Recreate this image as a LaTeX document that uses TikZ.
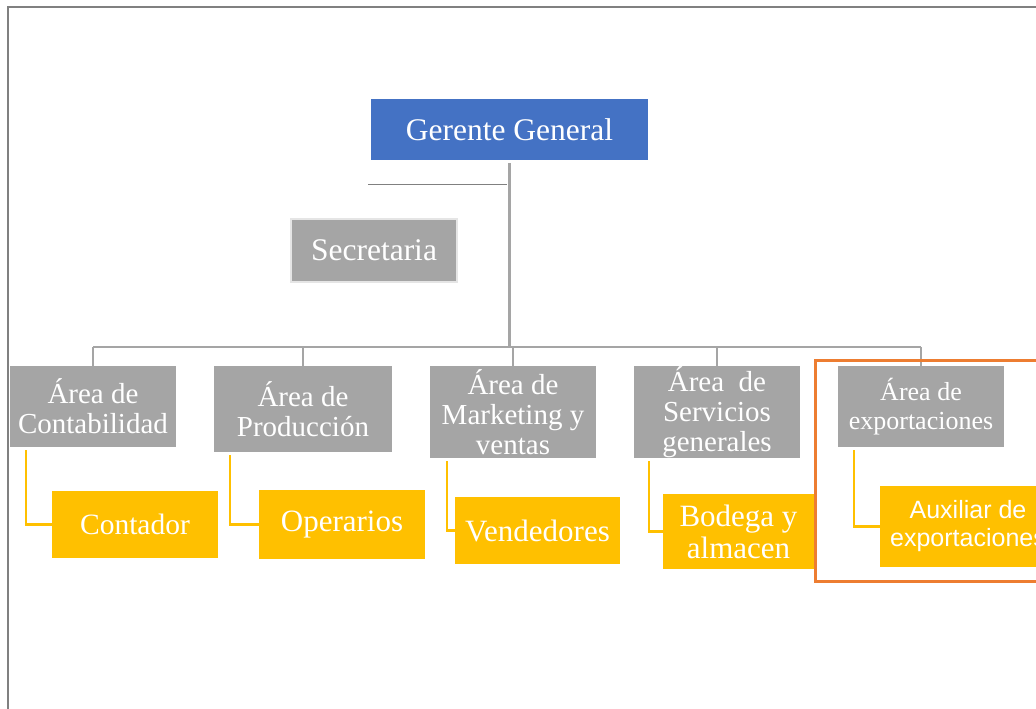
\documentclass[tikz,border=0pt]{standalone}
\usepackage{fontspec}
\setmainfont{Liberation Serif}
\newfontfamily\auxfont{Liberation Sans}
\definecolor{jefeazul}{HTML}{4472C4}
\definecolor{areagris}{HTML}{A5A5A5}
\definecolor{cargoamarillo}{HTML}{FFC000}
\definecolor{marconaranja}{HTML}{ED7D31}
\definecolor{marcogris}{HTML}{808080}

\begin{document}
\begin{tikzpicture}[x=1pt,y=-1pt,
		caja/.style={inner sep=0pt,text=white,align=center,font=\fontsize{29}{30}\selectfont},
		area/.style={caja,fill=areagris,minimum width=166pt,minimum height=81pt},
		cargo/.style={caja,fill=cargoamarillo,minimum width=166pt,minimum height=67pt,font=\fontsize{31}{32}\selectfont},
		rama/.style={areagris,line width=2.5pt},
		enlace/.style={cargoamarillo,line width=2.5pt}]
	\useasboundingbox (0,0) rectangle (1036,709);

	\draw[marcogris,line width=1.5pt] (8,709)--(8,7)--(1036,7); % page frame

	% top
	\node (gg) at (509.5,129.5) [caja,fill=jefeazul,minimum width=277pt,minimum height=61pt,font=\fontsize{31.5}{33}\selectfont] {Gerente General};
	\node (sec) at (374,250.5) [caja,fill=areagris,draw=gray!20,line width=2pt,minimum width=166pt,minimum height=63pt,font=\fontsize{31.5}{33}\selectfont] {Secretaria};

	% areas
	\node (cont) at (93,406.5) [area] {Área de\\Contabilidad};
	\node (prod) at (303,409) [area,minimum width=178pt,minimum height=86pt] {Área de\\Producción};
	\node (mark) at (513,412) [area,minimum height=92pt] {Área de\\Marketing y\\ventas};
	\node (serv) at (717,412) [area,minimum height=92pt] {Área\ \ de\\Servicios\\generales};
	\node (expo) at (921,406.5) [area,font=\fontsize{26}{29}\selectfont] {Área de\\exportaciones};

	% cargos
	\node (contador) at (135,524.5) [cargo,font=\fontsize{29.5}{31}\selectfont] {Contador};
	\node (operarios) at (342,524.5) [cargo,minimum height=69pt] {Operarios};
	\node (vendedores) at (537.5,530.5) [cargo,minimum width=165pt] {Vendedores};
	\node (bodega) at (738.5,531.5) [cargo,minimum width=151pt,minimum height=75pt] {Bodega y\\almacen};
	\node (auxiliar) at (968,526.5) [cargo,minimum width=176pt,minimum height=81pt,font=\auxfont\fontsize{25}{28}\selectfont] {Auxiliar de\\exportaciones};

	% lines
	\draw[rama] (gg.south) ++(0,3) -- (gg.south |- 0,347) coordinate (bus); % trunk
	\draw[rama] (cont.north |- bus) -- (expo.north |- bus); % bus
	\foreach \n in {cont,prod,mark,serv,expo}
		\draw[rama] (\n.north |- bus) -- (\n.north);

	\coordinate (secj) at (368,184);
	\draw[marcogris,line width=1pt] (secj) -- ([xshift=-3pt]secj -| gg.south); % secretaria line

	\draw[enlace] (cont.south west) ++(16,3) |- (contador.west);
	\draw[enlace] (prod.south west) ++(16,3) |- (operarios.west);
	\draw[enlace] (mark.south west) ++(17,3) |- (vendedores.west);
	\draw[enlace] (serv.south west) ++(15,3) |- (bodega.west);
	\draw[enlace] (expo.south west) ++(16,3) |- (auxiliar.west);

	\draw[marconaranja,line width=3pt] (1040,360)--(815,360)--(815,581)--(1040,581); % highlight
\end{tikzpicture}
\end{document}
